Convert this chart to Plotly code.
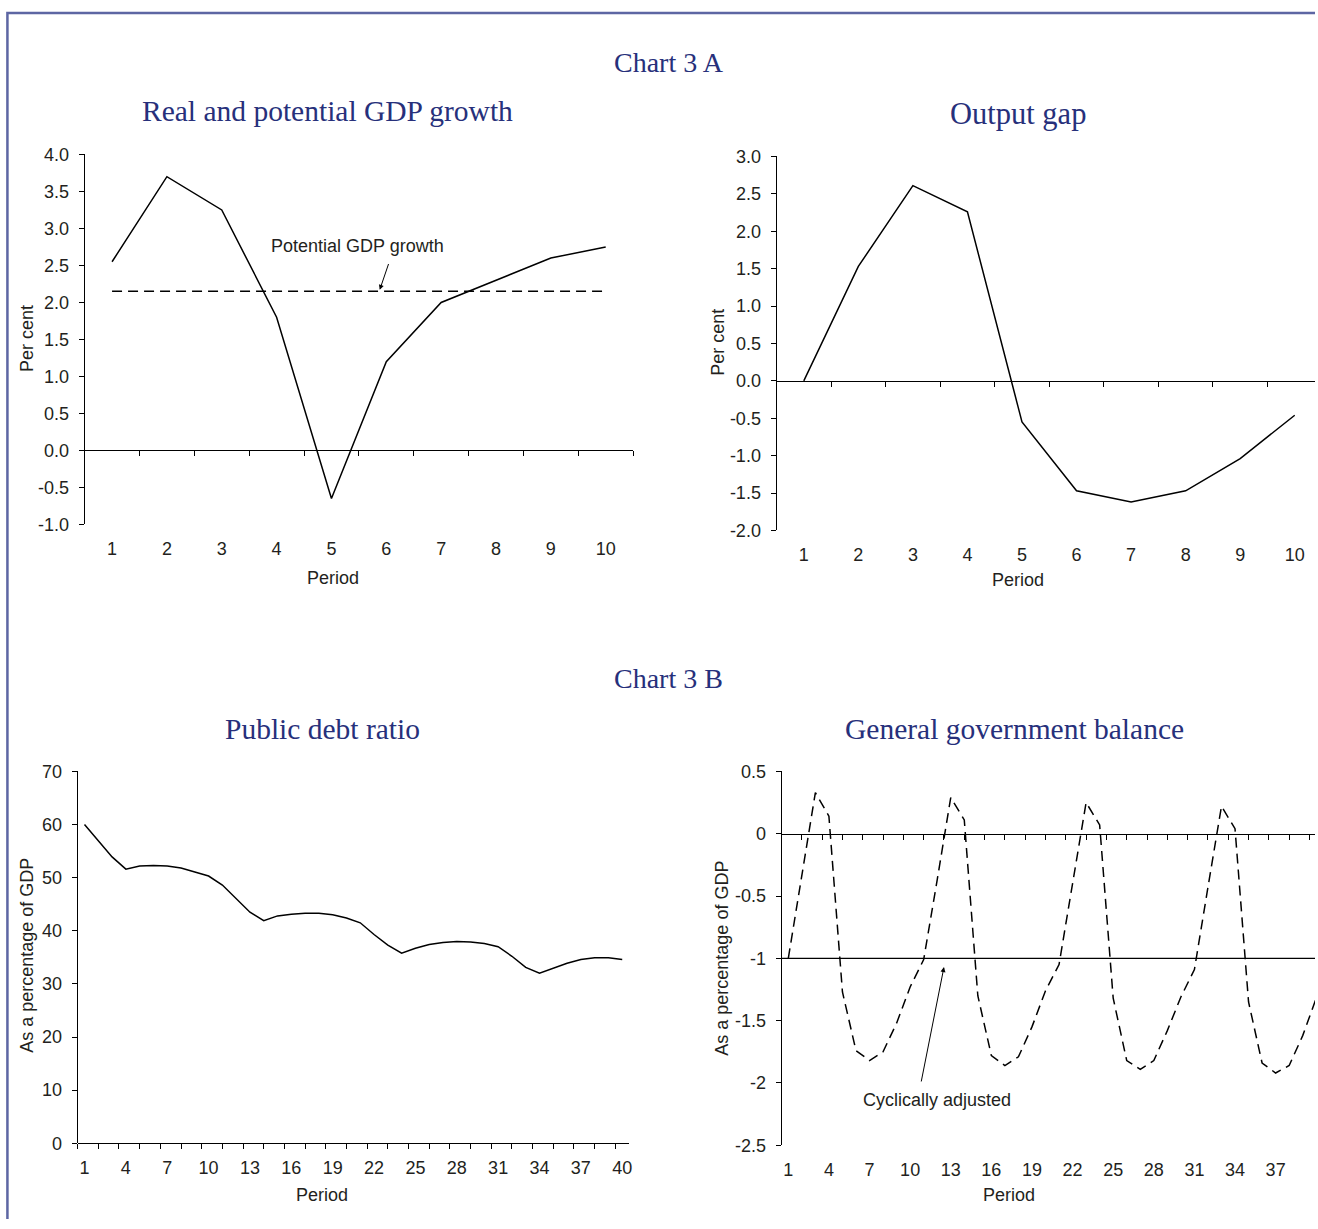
import plotly.graph_objects as go

W, H = 1318, 1229

# ---------------- Chart 3 A ----------------
periods_a = [1, 2, 3, 4, 5, 6, 7, 8, 9, 10]
real_gdp_growth = [2.55, 3.70, 3.25, 1.80, -0.65, 1.20, 2.00, 2.30, 2.60, 2.75]
potential_gdp_growth = [2.15, 2.15, 2.15, 2.15, 2.15, 2.15, 2.15, 2.15, 2.15, 2.15]
output_gap = [0.00, 1.53, 2.61, 2.26, -0.55, -1.47, -1.62, -1.47, -1.04, -0.46]

growth_ticks = [-1.0, -0.5, 0.0, 0.5, 1.0, 1.5, 2.0, 2.5, 3.0, 3.5, 4.0]
growth_tick_text = ["-1.0", "-0.5", "0.0", "0.5", "1.0", "1.5", "2.0", "2.5", "3.0", "3.5", "4.0"]
gap_ticks = [-2.0, -1.5, -1.0, -0.5, 0.0, 0.5, 1.0, 1.5, 2.0, 2.5, 3.0]
gap_tick_text = ["-2.0", "-1.5", "-1.0", "-0.5", "0.0", "0.5", "1.0", "1.5", "2.0", "2.5", "3.0"]
period_a_labels = ["1", "2", "3", "4", "5", "6", "7", "8", "9", "10"]

# ---------------- Chart 3 B ----------------
periods_b = list(range(1, 41))
public_debt_ratio = [
    60.0, 57.0, 53.9, 51.6, 52.2, 52.3, 52.2, 51.8, 51.1, 50.3,
    48.6, 46.0, 43.5, 41.9, 42.8, 43.1, 43.3, 43.3, 43.0, 42.4,
    41.5, 39.3, 37.3, 35.8, 36.7, 37.4, 37.8, 38.0, 37.9, 37.6,
    37.0, 35.2, 33.1, 32.0, 33.0, 33.9, 34.6, 34.9, 34.9, 34.6,
]
government_balance = [
    -1.00, -0.35, 0.33, 0.14, -1.27, -1.74, -1.82, -1.75, -1.52, -1.23,
    -1.01, -0.37, 0.29, 0.11, -1.30, -1.78, -1.86, -1.79, -1.55, -1.26,
    -1.05, -0.40, 0.25, 0.07, -1.32, -1.82, -1.89, -1.82, -1.58, -1.31,
    -1.09, -0.43, 0.22, 0.04, -1.35, -1.84, -1.92, -1.86, -1.62, -1.32,
]
cyclically_adjusted_balance = -1.0

debt_ticks = [0, 10, 20, 30, 40, 50, 60, 70]
debt_tick_text = ["0", "10", "20", "30", "40", "50", "60", "70"]
balance_ticks = [-2.5, -2.0, -1.5, -1.0, -0.5, 0.0, 0.5]
balance_tick_text = ["-2.5", "-2", "-1.5", "-1", "-0.5", "0", "0.5"]
period_b_ticks = [1, 4, 7, 10, 13, 16, 19, 22, 25, 28, 31, 34, 37, 40]
period_b_labels = ["1", "4", "7", "10", "13", "16", "19", "22", "25", "28", "31", "34", "37", "40"]

# ---------------- styling ----------------
SANS = "Liberation Sans, Arial, sans-serif"
SERIF = "Liberation Serif, Times New Roman, serif"
TEXT = "#231f20"
NAVY = "#27307b"
FRAME = "#5d66a3"
LINE_W = 1.5

# layout is laid out on a pixel grid; these factors map that grid onto the page
SX, OX = 0.995, 0.6
SY, OY = 0.9839, 9.5


def px_x(px):
    return min(((px - OX) / SX) / W, 1.0)


def px_y(py):
    return max(1 - ((py - OY) / SY) / H, 0.0)


RIGHT_EDGE = W * SX + OX

# panel geometry in pixels: left edge, top, bottom, pixels per period, periods, y range
panels = {
    1: dict(l=85, t=154, b=524, ppu=54.7, n=10, yr=[-1.0, 4.0], dtick=1.0),
    2: dict(l=775, t=156, b=530, ppu=54.4, n=10, yr=[-2.0, 3.0], dtick=1.0),
    3: dict(l=78, t=771, b=1143, ppu=13.75, n=40, yr=[0.0, 70.0], dtick=1.5),
    4: dict(l=780, t=771, b=1145, ppu=13.5, n=40, yr=[-2.5, 0.5], dtick=1.5),
}
y_ticks = {1: (growth_ticks, growth_tick_text), 2: (gap_ticks, gap_tick_text),
           3: (debt_ticks, debt_tick_text), 4: (balance_ticks, balance_tick_text)}
x_ticks = {1: (periods_a, period_a_labels), 2: (periods_a, period_a_labels),
           3: (period_b_ticks, period_b_labels), 4: (period_b_ticks, period_b_labels)}

fig = go.Figure()

# data traces
fig.add_trace(go.Scatter(x=periods_a, y=real_gdp_growth, mode="lines",
                         line=dict(color="black", width=LINE_W), xaxis="x", yaxis="y"))
fig.add_trace(go.Scatter(x=periods_a, y=potential_gdp_growth, mode="lines",
                         line=dict(color="black", width=LINE_W, dash="10px,6px"),
                         xaxis="x", yaxis="y"))
fig.add_trace(go.Scatter(x=periods_a, y=output_gap, mode="lines",
                         line=dict(color="black", width=LINE_W), xaxis="x2", yaxis="y2"))
fig.add_trace(go.Scatter(x=periods_b, y=public_debt_ratio, mode="lines",
                         line=dict(color="black", width=LINE_W), xaxis="x3", yaxis="y3"))
fig.add_trace(go.Scatter(x=periods_b, y=government_balance, mode="lines",
                         line=dict(color="black", width=LINE_W, dash="10px,6px"),
                         xaxis="x4", yaxis="y4"))

layout = dict(
    width=W, height=H,
    margin=dict(l=0, r=0, t=0, b=0),
    paper_bgcolor="white", plot_bgcolor="rgba(0,0,0,0)",
    showlegend=False, hovermode=False,
    font=dict(family=SANS, size=18, color=TEXT),
)

for i, p in panels.items():
    sfx = "" if i == 1 else str(i)
    right = min(p["l"] + p["n"] * p["ppu"], RIGHT_EDGE)
    xr = [0.5, 0.5 + (right - p["l"]) / p["ppu"]]
    xdom = [px_x(p["l"]), px_x(right)]
    ydom = [px_y(p["b"]), px_y(p["t"])]
    yv, yt = y_ticks[i]
    xv, xt = x_ticks[i]
    # category labels along the bottom of the plot area
    layout["xaxis" + sfx] = dict(
        domain=xdom, range=xr, anchor="y" + sfx,
        tickmode="array", tickvals=xv, ticktext=xt,
        showline=False, ticks="", showgrid=False, zeroline=False,
        ticklabelstandoff=12, ticklabeloverflow="allow",
        tickfont=dict(family=SANS, size=18, color=TEXT),
    )
    layout["yaxis" + sfx] = dict(
        domain=ydom, range=p["yr"], anchor="x" + sfx,
        tickmode="array", tickvals=yv, ticktext=yt,
        showline=True, linecolor="black", linewidth=1,
        ticks="outside", ticklen=5, tickcolor="black", tickwidth=1,
        showgrid=False, zeroline=False, ticklabelstandoff=6,
        tickfont=dict(family=SANS, size=18, color=TEXT),
    )
    # horizontal axis line with tick marks drawn through zero
    y0, y1 = p["yr"]
    zero_py = p["t"] + (y1 - 0.0) / (y1 - y0) * (p["b"] - p["t"])
    zid = str(i + 4)
    layout["xaxis" + zid] = dict(
        domain=xdom, range=xr, overlaying="x" + sfx, anchor="free",
        position=px_y(zero_py), side="bottom",
        showline=True, linecolor="black", linewidth=1,
        ticks="outside", ticklen=5, tickcolor="black", tickwidth=1,
        tickmode="linear", tick0=0.5, dtick=p["dtick"],
        showticklabels=False, showgrid=False, zeroline=False,
    )
    fig.add_trace(go.Scatter(x=[None], y=[None], mode="lines", xaxis="x" + zid,
                             yaxis="y" + sfx, hoverinfo="skip"))

fig.update_layout(**layout)

# cyclically adjusted balance level
fig.add_shape(type="line", xref="x4 domain", x0=0, x1=1, yref="y4",
              y0=cyclically_adjusted_balance, y1=cyclically_adjusted_balance,
              line=dict(color="black", width=1.2))

# outer frame (left and top edges)
fig.add_shape(type="path", xref="paper", yref="paper",
              path=f"M {px_x(8)} 0 L {px_x(8)} {px_y(12.5)} L 1 {px_y(12.5)}",
              line=dict(color=FRAME, width=2.5))

ann = []


def text_at(txt, x, y, size, family, color, angle=0):
    ann.append(dict(text=txt, x=px_x(x), y=px_y(y), xref="paper", yref="paper",
                    showarrow=False, xanchor="center", yanchor="middle",
                    textangle=angle, font=dict(family=family, size=size, color=color)))


# headings
text_at("Chart 3 A", 668, 62, 28, SERIF, NAVY)
text_at("Real and potential GDP growth", 327, 111, 29.5, SERIF, NAVY)
text_at("Output gap", 1016, 114, 30.5, SERIF, NAVY)
text_at("Chart 3 B", 667, 678, 28, SERIF, NAVY)
text_at("Public debt ratio", 322, 729, 29.5, SERIF, NAVY)
text_at("General government balance", 1012, 729, 29.5, SERIF, NAVY)

# axis titles
text_at("Per cent", 28, 338, 18, SANS, TEXT, -90)
text_at("Period", 333, 578, 18, SANS, TEXT)
text_at("Per cent", 717, 342, 18, SANS, TEXT, -90)
text_at("Period", 1016, 580, 18, SANS, TEXT)
text_at("As a percentage of GDP", 28, 955, 18, SANS, TEXT, -90)
text_at("Period", 322, 1195, 18, SANS, TEXT)
text_at("As a percentage of GDP", 721, 958, 18, SANS, TEXT, -90)
text_at("Period", 1007, 1195, 18, SANS, TEXT)

# series labels with pointer arrows
ann.append(dict(text="Potential GDP growth", x=5.47, y=2.76, xref="x", yref="y",
                showarrow=False, font=dict(family=SANS, size=18, color=TEXT)))
ann.append(dict(text="", x=5.88, y=2.17, xref="x", yref="y",
                ax=6.05, ay=2.54, axref="x", ayref="y",
                showarrow=True, arrowhead=2, arrowsize=1, arrowwidth=1, arrowcolor="black"))
ann.append(dict(text="Cyclically adjusted", x=11.98, y=-2.14, xref="x4", yref="y4",
                showarrow=False, font=dict(family=SANS, size=18, color=TEXT)))
ann.append(dict(text="", x=12.5, y=-1.07, xref="x4", yref="y4",
                ax=10.8, ay=-2.0, axref="x4", ayref="y4",
                showarrow=True, arrowhead=2, arrowsize=1, arrowwidth=1, arrowcolor="black"))

fig.update_layout(annotations=ann)

# the page body gets no margin so the figure fills the window exactly
fig.write_html(
    "out.html",
    post_script="document.body.style.margin='0';document.documentElement.style.overflow='hidden';",
)
